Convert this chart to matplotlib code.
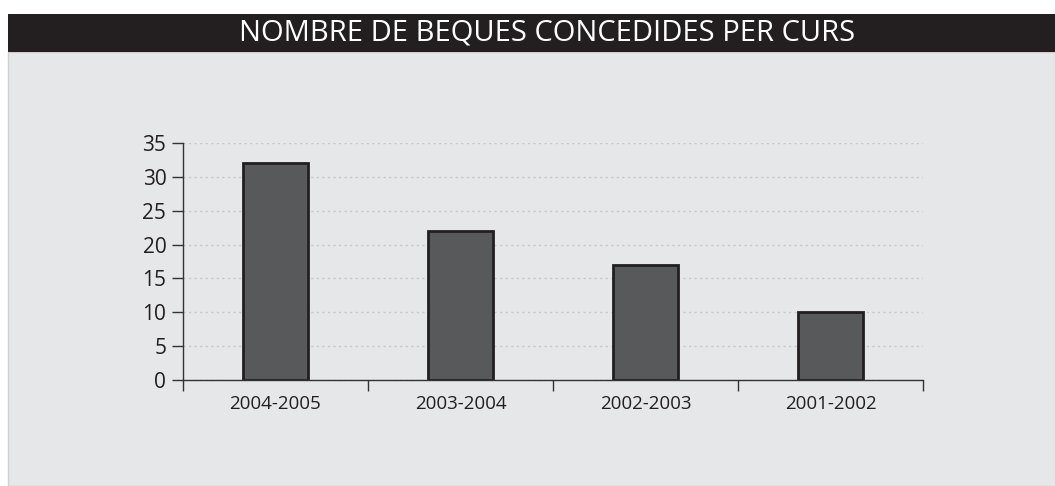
import matplotlib.pyplot as plt
from matplotlib.patches import Rectangle

# dades
cursos = ["2004-2005", "2003-2004", "2002-2003", "2001-2002"]
beques = [32, 22, 17, 10]
y_ticks = [0, 5, 10, 15, 20, 25, 30, 35]

plt.rcParams['font.family'] = ['Open Sans', 'DejaVu Sans']

W, H = 1055, 486
fig = plt.figure(figsize=(W / 100, H / 100), dpi=100)
fig.patch.set_facecolor('white')

# fons gris i banda del titol
fig.patches.append(Rectangle((8 / W, 0), 1 - 8 / W, 1 - 52 / H, transform=fig.transFigure,
                             facecolor='#e6e7e8', edgecolor='#d0d0d0', lw=1, zorder=-10))
fig.patches.append(Rectangle((8 / W, 1 - 52 / H), 1 - 8 / W, 38 / H, transform=fig.transFigure,
                             facecolor='#231f20', edgecolor='none', zorder=-10))
fig.text(547 / W, 1 - 33 / H, "NOMBRE DE BEQUES CONCEDIDES PER CURS", color='white',
         fontsize=21, ha='center', va='center')

ax = fig.add_axes([183 / W, 1 - 380 / H, (923 - 183) / W, (380 - 143) / H])
ax.set_facecolor('none')

x = list(range(len(cursos)))
ax.bar(x, beques, width=0.35, color='#58595b', edgecolor='#231f20', linewidth=2, zorder=3)

ax.set_xlim(-0.5, len(cursos) - 0.5)
ax.set_ylim(0, 35)
ax.set_yticks(y_ticks)
ax.set_xticks([i - 0.5 for i in range(len(cursos) + 1)])
ax.set_xticklabels([])
ax.set_xticks(x, minor=True)
ax.set_xticklabels(cursos, minor=True, fontsize=13.5, color='#231f20')
ax.tick_params(axis='x', which='minor', length=0, pad=11)
ax.tick_params(axis='x', which='major', length=8, width=1, color='#333333')
ax.tick_params(axis='y', length=8, width=1, color='#333333', labelsize=15, labelcolor='#231f20', pad=4)

ax.yaxis.grid(True, linestyle=(0, (1.5, 2.5)), color='#c6c6c6', linewidth=1, zorder=0)
for s in ['top', 'right']:
    ax.spines[s].set_visible(False)
for s in ['left', 'bottom']:
    ax.spines[s].set_color('#333333')
    ax.spines[s].set_linewidth(1)
    ax.spines[s].set_zorder(4)

fig.savefig('out.png', dpi=100, facecolor=fig.get_facecolor())
